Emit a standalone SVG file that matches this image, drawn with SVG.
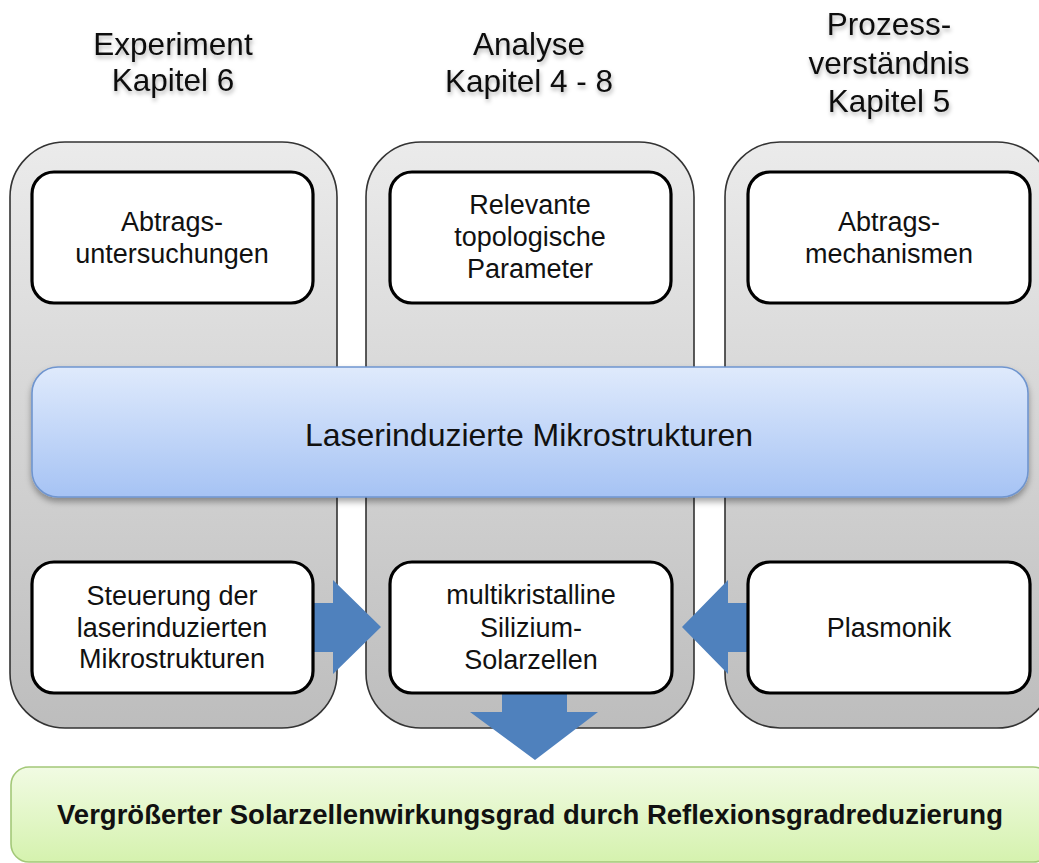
<svg xmlns="http://www.w3.org/2000/svg" width="1039" height="863" viewBox="0 0 1039 863">
<style>
text{font-family:"Liberation Sans",Arial,sans-serif;fill:#111;text-anchor:middle}
.hdr{font-size:31.5px}
.box{font-size:27px}
.panel{fill:url(#gPanel);stroke:#333;stroke-width:1.6}
.inner{fill:#fff;stroke:#000;stroke-width:3.2}
.arrow{fill:#4f81bd}
</style>
<defs>
<linearGradient id="gPanel" x1="0" y1="0" x2="0" y2="1">
<stop offset="0" stop-color="#ebebeb"/>
<stop offset="1" stop-color="#bdbdbd"/>
</linearGradient>
<linearGradient id="gBlue" x1="0" y1="0" x2="0" y2="1">
<stop offset="0" stop-color="#dfeafc"/>
<stop offset="1" stop-color="#a6c3f4"/>
</linearGradient>
<linearGradient id="gGreen" x1="0" y1="0" x2="0" y2="1">
<stop offset="0" stop-color="#f1fbe3"/>
<stop offset="1" stop-color="#d5f2ae"/>
</linearGradient>
<filter id="tsh" x="-10%" y="-30%" width="120%" height="160%">
<feDropShadow dx="1" dy="3" stdDeviation="2" flood-color="#000" flood-opacity="0.3"/>
</filter>
<filter id="bsh" x="-5%" y="-10%" width="110%" height="130%">
<feDropShadow dx="0" dy="4" stdDeviation="3" flood-color="#000" flood-opacity="0.35"/>
</filter>
</defs>
<rect width="1039" height="863" fill="#fff"/>

<g id="header-experiment" filter="url(#tsh)">
<text class="hdr" x="173" y="55">Experiment</text>
<text class="hdr" x="173" y="91">Kapitel 6</text>
</g>
<g id="header-analyse" filter="url(#tsh)">
<text class="hdr" x="529" y="55">Analyse</text>
<text class="hdr" x="529" y="92">Kapitel 4 - 8</text>
</g>
<g id="header-prozess" filter="url(#tsh)">
<text class="hdr" x="889" y="35">Prozess-</text>
<text class="hdr" x="889" y="74">verständnis</text>
<text class="hdr" x="889" y="112">Kapitel 5</text>
</g>

<g id="panel-experiment"><rect class="panel" x="10" y="142" width="327" height="586" rx="55"/></g>
<g id="panel-analyse"><rect class="panel" x="366" y="142" width="328" height="586" rx="55"/></g>
<g id="panel-prozess"><rect class="panel" x="725" y="142" width="327" height="586" rx="55"/></g>

<g id="connectors">
<polygon class="arrow" points="300,603 333,603 333,580 381,627 333,674 333,652 300,652"/>
<polygon class="arrow" points="760,603 728,603 728,580 682,627 728,674 728,652 760,652"/>
<polygon class="arrow" points="502,680 567,680 567,712 598,712 535,760 470,712 502,712"/>
</g>

<g id="node-abtragsuntersuchungen">
<rect class="inner" x="32" y="172" width="281" height="131" rx="22"/>
<text class="box" x="172" y="231">Abtrags-</text>
<text class="box" x="172" y="263">untersuchungen</text>
</g>
<g id="node-parameter">
<rect class="inner" x="390" y="172" width="281" height="131" rx="22"/>
<text class="box" x="530" y="214">Relevante</text>
<text class="box" x="530" y="246">topologische</text>
<text class="box" x="530" y="278">Parameter</text>
</g>
<g id="node-abtragsmechanismen">
<rect class="inner" x="748" y="172" width="282" height="131" rx="22"/>
<text class="box" x="889" y="231">Abtrags-</text>
<text class="box" x="889" y="263">mechanismen</text>
</g>

<g id="node-laser">
<rect x="32" y="367" width="996" height="130" rx="26" fill="url(#gBlue)" stroke="#6f95cf" stroke-width="1.6" filter="url(#bsh)"/>
<text x="529" y="446" style="font-size:32px">Laserinduzierte Mikrostrukturen</text>
</g>

<g id="node-steuerung">
<rect class="inner" x="32" y="562" width="281" height="131" rx="22"/>
<text class="box" x="172" y="605">Steuerung der</text>
<text class="box" x="172" y="637">laserinduzierten</text>
<text class="box" x="172" y="668">Mikrostrukturen</text>
</g>
<g id="node-solarzellen">
<rect class="inner" x="390" y="562" width="282" height="131" rx="22"/>
<text class="box" x="531" y="604">multikristalline</text>
<text class="box" x="531" y="637">Silizium-</text>
<text class="box" x="531" y="669">Solarzellen</text>
</g>
<g id="node-plasmonik">
<rect class="inner" x="748" y="562" width="282" height="131" rx="22"/>
<text class="box" x="889" y="637">Plasmonik</text>
</g>

<g id="node-ergebnis">
<rect x="11" y="767" width="1040" height="95" rx="18" fill="url(#gGreen)" stroke="#a3c878" stroke-width="1.6"/>
<text x="530" y="824" style="font-size:27.5px;font-weight:bold">Vergrößerter Solarzellenwirkungsgrad durch Reflexionsgradreduzierung</text>
</g>
</svg>
